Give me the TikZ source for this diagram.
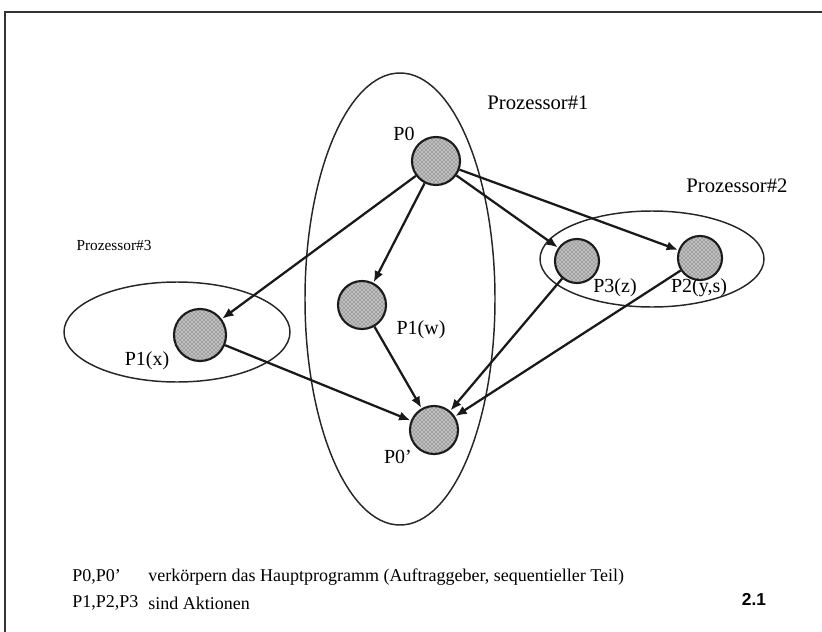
\documentclass[tikz,border=0pt]{standalone}
\usepackage{fontspec}
\setmainfont{Liberation Serif}
\newfontfamily\numfont{Liberation Sans}
\usetikzlibrary{arrows.meta,patterns}
\tikzset{
  proc/.style={draw=black!85, line width=1.1pt},
  task/.style={circle, draw=black!90, line width=1.6pt, fill=gray!50,
    postaction={pattern=crosshatch dots, pattern color=black!75},
    minimum size=36pt, inner sep=0pt},
  flow/.style={draw=black!90, line width=1.7pt, -{Latex[length=8.5pt,width=7pt]}, shorten >=0.3pt},
  tasklabel/.style={font=\fontsize{15}{18}\selectfont, inner sep=0pt},
  proclabel/.style={font=\fontsize{15.5}{18}\selectfont, inner sep=0pt},
  note/.style={font=\fontsize{13.5}{16}\selectfont, inner sep=0pt, anchor=west}
}
\begin{document}
\begin{tikzpicture}[x=0.75pt, y=-0.75pt]
  \useasboundingbox (0,0) rectangle (822,632);
  % page frame (only top and left edges fall inside the picture)
  \begin{scope}
    \clip (0,0) rectangle (822,632);
    \draw[black!80, line width=0.9pt] (5,12) rectangle (900,700);
  \end{scope}

  % processors
  \draw[proc] (400,299) ellipse [x radius=95, y radius=226];
  \draw[proc] (652,259) ellipse [x radius=112, y radius=48];
  \draw[proc] (177,332) ellipse [x radius=113, y radius=50];
  \node[proclabel] (lp1) at (538,103) {Prozessor\#1};
  \node[proclabel] (lp2) at (737,186) {Prozessor\#2};
  \node[font=\fontsize{11.5}{13}\selectfont, inner sep=0pt] (lp3) at (114,245) {Prozessor\#3};

  % tasks
  \node[task] (p0)  at (436,161) {};
  \node[task] (p1w) at (362,305) {};
  \node[task] (p0e) at (434,430) {};
  \node[task, minimum size=33pt] (p3) at (577,261) {};
  \node[task, minimum size=33pt] (p2) at (700,258) {};
  \node[task, minimum size=39pt] (p1x) at (200,335) {};

  \node[tasklabel] (lp0)  at (404,134) {P0};
  \node[tasklabel] (lp1w) at (421,330) {P1(w)};
  \node[tasklabel] (lp0e) at (398,457) {P0'};
  \node[tasklabel] (lp3z) at (615,288) {P3(z)};
  \node[tasklabel] (lp2y) at (699,288) {P2(y,s)};
  \node[tasklabel] (lp1x) at (147,361) {P1(x)};

  % control flow
  \draw[flow] (p0) -- (p1x);
  \draw[flow] (p0) -- (p1w);
  \draw[flow] (p0) -- (p3);
  \draw[flow] (p0) -- (p2);
  \draw[flow] (p1x) -- (p0e);
  \draw[flow] (p1w) -- (p0e);
  \draw[flow] (p3) -- (p0e);
  \draw[flow] (p2) -- (p0e);

  % legend
  \node[note] (k1) at (72,577) {P0,P0'};
  \node[note] (t1) at (148,577) {verkörpern das Hauptprogramm (Auftraggeber, sequentieller Teil)};
  \node[note] (k2) at (72,603) {P1,P2,P3};
  \node[note] (t2) at (148,603) {sind Aktionen};
  \node[font=\numfont\bfseries\fontsize{13}{15}\selectfont, inner sep=0pt] (fig) at (754,599) {2.1};
\end{tikzpicture}
\end{document}
